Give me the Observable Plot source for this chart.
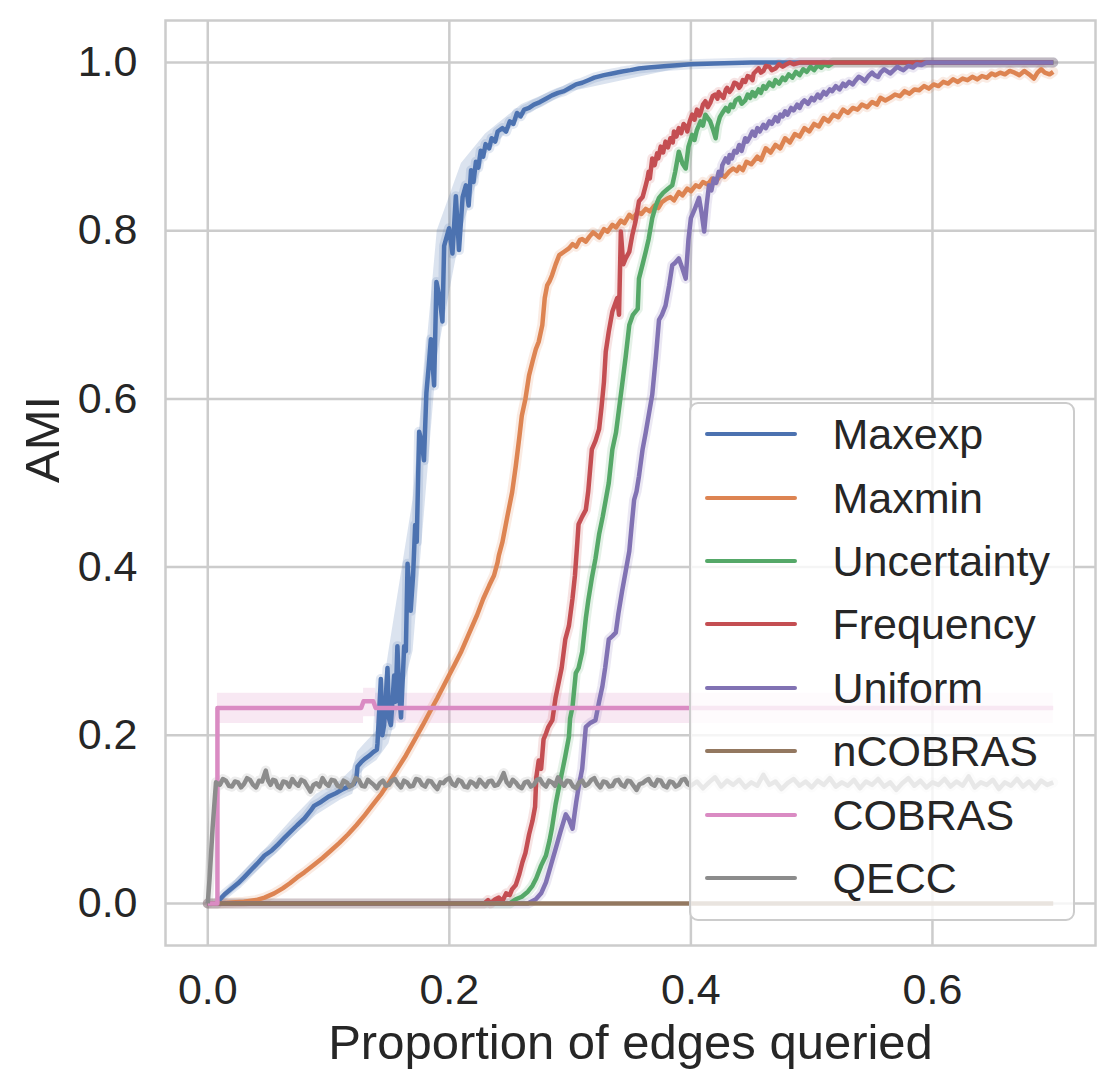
<!DOCTYPE html>
<html><head><meta charset="utf-8">
<script src="https://cdn.jsdelivr.net/npm/d3@7"></script>
<script src="https://cdn.jsdelivr.net/npm/@observablehq/plot@0.6"></script>
<style>
body{margin:0;background:#fff;}
#wrap{position:relative;width:1115px;height:1089px;font-family:"Liberation Sans",Arial,sans-serif;color:#262626;}
#legend{position:absolute;left:689px;top:402px;width:386px;height:519px;box-sizing:border-box;background:rgba(255,255,255,0.8);border:2.5px solid #cccccc;border-radius:9px;}
.row{position:absolute;left:0;height:60px;width:100%;}
.sw{position:absolute;left:13.5px;top:28px;width:92px;height:4px;border-radius:2px;}
.lab{position:absolute;left:141.5px;top:0;height:60px;line-height:60px;font-size:43px;white-space:nowrap;}
</style></head>
<body>
<div id="wrap"><div id="chart"></div><div id="legend"></div></div>
<script>
const seriesNames = ["Maxexp","Maxmin","Uncertainty","Frequency","Uniform","nCOBRAS","COBRAS","QECC"];
const seriesColors = ["#4c72b0","#dd8452","#55a868","#c44e52","#8172b3","#937860","#da8bc3","#8c8c8c"];
const xTicks = [0,0.2,0.4,0.6];
const yTicks = [0,0.2,0.4,0.6,0.8,1.0];

const maxexp = [[0,0],[0.008,0.0],[0.0095,0.004],[0.014,0.011],[0.019,0.017],[0.025,0.024],[0.03,0.031],[0.036,0.04],[0.042,0.049],[0.047,0.057],[0.053,0.063],[0.058,0.07],[0.064,0.079],[0.069,0.086],[0.074,0.093],[0.08,0.101],[0.085,0.11],[0.088,0.116],[0.094,0.121],[0.1,0.127],[0.106,0.131],[0.112,0.136],[0.118,0.14],[0.121,0.142],[0.123,0.148],[0.124,0.163],[0.127,0.168],[0.13,0.172],[0.134,0.176],[0.137,0.18],[0.14,0.183],[0.1405,0.19],[0.1433,0.267],[0.1445,0.2],[0.146,0.212],[0.1488,0.28],[0.15,0.22],[0.1516,0.212],[0.1543,0.271],[0.1555,0.24],[0.157,0.306],[0.1585,0.25],[0.16,0.221],[0.1626,0.306],[0.164,0.3],[0.1654,0.404],[0.168,0.348],[0.17,0.39],[0.1717,0.45],[0.173,0.43],[0.175,0.561],[0.177,0.55],[0.179,0.527],[0.181,0.607],[0.183,0.64],[0.1847,0.671],[0.1874,0.616],[0.1893,0.739],[0.192,0.72],[0.1943,0.692],[0.1957,0.782],[0.1998,0.803],[0.2026,0.773],[0.2054,0.841],[0.208,0.777],[0.211,0.84],[0.2137,0.854],[0.216,0.83],[0.218,0.872],[0.22,0.858],[0.222,0.882],[0.224,0.875],[0.226,0.895],[0.228,0.888],[0.23,0.903],[0.233,0.898],[0.235,0.91],[0.238,0.906],[0.24,0.918],[0.244,0.922],[0.247,0.918],[0.25,0.93],[0.253,0.927],[0.256,0.94],[0.259,0.936],[0.262,0.944],[0.266,0.946],[0.27,0.95],[0.275,0.953],[0.28,0.957],[0.285,0.961],[0.29,0.964],[0.295,0.966],[0.3,0.97],[0.305,0.974],[0.31,0.976],[0.315,0.979],[0.32,0.982],[0.328,0.985],[0.335,0.987],[0.342,0.989],[0.35,0.991],[0.357,0.993],[0.365,0.994],[0.38,0.996],[0.4,0.998],[0.42,0.999],[0.45,1.0],[0.5,1.0],[0.6,1.0],[0.7,1.0]];

const maxexpBand = [[0.01,0.0,0.008],[0.03,0.024,0.038],[0.05,0.05,0.068],[0.07,0.078,0.1],[0.09,0.105,0.13],[0.11,0.123,0.146],[0.12,0.13,0.16],[0.124,0.15,0.18],[0.13,0.16,0.19],[0.14,0.17,0.205],[0.15,0.19,0.3],[0.17,0.3,0.48],[0.19,0.65,0.8],[0.21,0.8,0.88],[0.23,0.89,0.915],[0.26,0.935,0.95],[0.3,0.965,0.975],[0.4,0.996,1.0]];

const maxmin = [[0,0],[0.008,0],[0.02,0.001],[0.03,0.002],[0.04,0.004],[0.047,0.007],[0.055,0.012],[0.062,0.018],[0.068,0.024],[0.074,0.031],[0.08,0.037],[0.088,0.046],[0.095,0.054],[0.102,0.063],[0.109,0.072],[0.116,0.082],[0.123,0.093],[0.13,0.105],[0.137,0.118],[0.144,0.131],[0.15,0.144],[0.157,0.16],[0.164,0.176],[0.171,0.194],[0.178,0.212],[0.185,0.231],[0.19,0.244],[0.195,0.258],[0.2,0.272],[0.204,0.283],[0.21,0.3],[0.216,0.32],[0.223,0.343],[0.228,0.362],[0.233,0.378],[0.237,0.39],[0.24,0.406],[0.241,0.414],[0.244,0.43],[0.248,0.46],[0.252,0.489],[0.255,0.52],[0.258,0.555],[0.26,0.58],[0.263,0.6],[0.266,0.628],[0.269,0.645],[0.2716,0.659],[0.274,0.668],[0.277,0.688],[0.279,0.72],[0.281,0.735],[0.283,0.74],[0.285,0.747],[0.288,0.76],[0.291,0.771],[0.295,0.775],[0.299,0.779],[0.302,0.784],[0.305,0.781],[0.308,0.789],[0.31,0.79],[0.313,0.787],[0.316,0.793],[0.319,0.798],[0.321,0.796],[0.324,0.792],[0.328,0.802],[0.331,0.799],[0.335,0.807],[0.338,0.804],[0.342,0.812],[0.345,0.809],[0.349,0.819],[0.352,0.815],[0.356,0.822],[0.359,0.82],[0.3626,0.826],[0.366,0.823],[0.37,0.83],[0.373,0.827],[0.376,0.834],[0.38,0.838],[0.383,0.84],[0.386,0.836],[0.39,0.846],[0.393,0.842],[0.397,0.85],[0.4,0.847],[0.404,0.854],[0.407,0.852],[0.41,0.858],[0.414,0.855],[0.4176,0.862],[0.421,0.859],[0.425,0.867],[0.428,0.864],[0.4315,0.87],[0.435,0.874],[0.438,0.871],[0.44,0.876],[0.443,0.872],[0.446,0.882],[0.45,0.879],[0.455,0.888],[0.458,0.884],[0.462,0.898],[0.466,0.893],[0.47,0.902],[0.474,0.898],[0.478,0.91],[0.482,0.905],[0.486,0.915],[0.49,0.912],[0.494,0.922],[0.498,0.918],[0.502,0.927],[0.506,0.924],[0.51,0.934],[0.514,0.93],[0.518,0.938],[0.522,0.935],[0.526,0.944],[0.53,0.94],[0.534,0.946],[0.538,0.944],[0.5416,0.95],[0.546,0.947],[0.55,0.953],[0.554,0.95],[0.557,0.958],[0.561,0.955],[0.565,0.958],[0.569,0.962],[0.573,0.96],[0.577,0.966],[0.581,0.963],[0.585,0.968],[0.589,0.967],[0.593,0.972],[0.597,0.969],[0.601,0.974],[0.605,0.972],[0.609,0.977],[0.613,0.975],[0.617,0.98],[0.621,0.977],[0.625,0.981],[0.629,0.979],[0.633,0.983],[0.637,0.98],[0.641,0.984],[0.645,0.982],[0.649,0.987],[0.652,0.985],[0.656,0.988],[0.66,0.986],[0.664,0.99],[0.668,0.988],[0.672,0.985],[0.676,0.99],[0.68,0.986],[0.684,0.981],[0.687,0.988],[0.69,0.992],[0.693,0.988],[0.697,0.986],[0.7,0.989]];

const uncertainty = [[0,0],[0.25,0.0],[0.255,0.005],[0.26,0.008],[0.265,0.014],[0.2688,0.021],[0.272,0.03],[0.276,0.045],[0.28,0.057],[0.283,0.075],[0.285,0.09],[0.288,0.118],[0.291,0.14],[0.2936,0.158],[0.296,0.175],[0.299,0.198],[0.3,0.22],[0.302,0.234],[0.3047,0.274],[0.307,0.28],[0.31,0.299],[0.313,0.339],[0.315,0.36],[0.318,0.387],[0.321,0.41],[0.324,0.439],[0.327,0.46],[0.3295,0.48],[0.332,0.5],[0.335,0.54],[0.338,0.56],[0.3405,0.588],[0.343,0.616],[0.346,0.65],[0.349,0.688],[0.352,0.7],[0.356,0.707],[0.357,0.743],[0.36,0.76],[0.3626,0.775],[0.365,0.79],[0.368,0.815],[0.371,0.83],[0.3736,0.839],[0.377,0.845],[0.381,0.85],[0.3846,0.854],[0.387,0.87],[0.39,0.894],[0.393,0.88],[0.3957,0.874],[0.398,0.9],[0.401,0.914],[0.403,0.908],[0.405,0.92],[0.408,0.93],[0.41,0.925],[0.412,0.938],[0.414,0.934],[0.416,0.93],[0.418,0.922],[0.4205,0.91],[0.422,0.925],[0.424,0.935],[0.426,0.94],[0.4288,0.946],[0.431,0.942],[0.433,0.95],[0.435,0.947],[0.437,0.955],[0.44,0.958],[0.442,0.951],[0.445,0.955],[0.447,0.962],[0.449,0.958],[0.451,0.965],[0.453,0.96],[0.456,0.968],[0.458,0.964],[0.46,0.972],[0.462,0.969],[0.465,0.976],[0.468,0.972],[0.47,0.979],[0.473,0.975],[0.476,0.982],[0.478,0.979],[0.481,0.986],[0.484,0.982],[0.487,0.989],[0.49,0.985],[0.493,0.992],[0.496,0.989],[0.499,0.995],[0.502,0.991],[0.505,0.997],[0.508,0.994],[0.51,0.998],[0.514,0.996],[0.518,1.0],[0.522,1.0],[0.6,1.0],[0.7,1.0]];

const frequency = [[0,0],[0.229,0.0],[0.232,0.004],[0.234,0.0],[0.238,0.005],[0.241,0.007],[0.244,0.003],[0.247,0.012],[0.25,0.01],[0.252,0.017],[0.255,0.022],[0.258,0.035],[0.2605,0.049],[0.263,0.06],[0.266,0.082],[0.2688,0.098],[0.271,0.115],[0.272,0.15],[0.274,0.17],[0.276,0.16],[0.278,0.195],[0.28,0.202],[0.282,0.21],[0.2853,0.218],[0.288,0.245],[0.291,0.266],[0.293,0.28],[0.296,0.314],[0.299,0.33],[0.302,0.363],[0.304,0.39],[0.306,0.43],[0.307,0.451],[0.31,0.46],[0.313,0.468],[0.315,0.49],[0.318,0.54],[0.321,0.55],[0.324,0.564],[0.326,0.59],[0.328,0.62],[0.3295,0.656],[0.332,0.68],[0.335,0.704],[0.337,0.712],[0.339,0.72],[0.3405,0.7],[0.342,0.799],[0.344,0.76],[0.346,0.767],[0.349,0.775],[0.3515,0.795],[0.354,0.81],[0.357,0.835],[0.36,0.84],[0.3626,0.854],[0.364,0.862],[0.365,0.87],[0.366,0.862],[0.368,0.886],[0.37,0.878],[0.372,0.892],[0.373,0.886],[0.375,0.9],[0.377,0.893],[0.379,0.906],[0.381,0.899],[0.383,0.91],[0.385,0.905],[0.386,0.918],[0.388,0.912],[0.39,0.922],[0.392,0.916],[0.394,0.927],[0.396,0.924],[0.397,0.918],[0.399,0.93],[0.401,0.938],[0.403,0.932],[0.405,0.944],[0.407,0.937],[0.408,0.94],[0.41,0.95],[0.412,0.954],[0.414,0.947],[0.416,0.952],[0.418,0.96],[0.42,0.962],[0.422,0.957],[0.423,0.965],[0.425,0.961],[0.427,0.958],[0.429,0.968],[0.43,0.97],[0.432,0.965],[0.434,0.969],[0.436,0.976],[0.438,0.975],[0.44,0.97],[0.441,0.972],[0.443,0.979],[0.445,0.977],[0.447,0.984],[0.449,0.983],[0.451,0.979],[0.452,0.987],[0.454,0.99],[0.456,0.993],[0.458,0.988],[0.46,0.99],[0.462,0.996],[0.465,0.995],[0.467,0.991],[0.47,0.993],[0.473,0.998],[0.476,0.995],[0.478,0.997],[0.482,1.0],[0.485,0.998],[0.49,1.0],[0.55,1.0],[0.7,1.0]];

const uniform = [[0,0],[0.265,0.0],[0.2716,0.005],[0.276,0.012],[0.28,0.025],[0.284,0.045],[0.288,0.065],[0.292,0.085],[0.2964,0.106],[0.299,0.1],[0.302,0.089],[0.305,0.12],[0.307,0.138],[0.31,0.16],[0.313,0.21],[0.317,0.215],[0.321,0.218],[0.324,0.24],[0.3267,0.258],[0.329,0.28],[0.332,0.314],[0.335,0.318],[0.3378,0.322],[0.34,0.345],[0.343,0.371],[0.346,0.395],[0.349,0.419],[0.351,0.45],[0.353,0.48],[0.355,0.49],[0.357,0.508],[0.36,0.54],[0.3626,0.56],[0.365,0.58],[0.368,0.605],[0.371,0.65],[0.3736,0.694],[0.376,0.7],[0.379,0.711],[0.382,0.735],[0.3846,0.759],[0.387,0.762],[0.39,0.767],[0.393,0.755],[0.3957,0.743],[0.398,0.79],[0.4,0.815],[0.403,0.825],[0.4067,0.839],[0.409,0.82],[0.411,0.799],[0.413,0.83],[0.415,0.854],[0.417,0.848],[0.419,0.862],[0.421,0.857],[0.423,0.87],[0.425,0.866],[0.426,0.878],[0.4288,0.886],[0.431,0.881],[0.432,0.89],[0.434,0.886],[0.436,0.895],[0.438,0.893],[0.44,0.902],[0.442,0.895],[0.443,0.9],[0.445,0.91],[0.4466,0.906],[0.449,0.912],[0.451,0.918],[0.453,0.913],[0.455,0.922],[0.457,0.918],[0.46,0.926],[0.462,0.922],[0.465,0.93],[0.467,0.927],[0.47,0.935],[0.472,0.93],[0.474,0.938],[0.476,0.936],[0.478,0.942],[0.48,0.938],[0.483,0.946],[0.485,0.943],[0.488,0.95],[0.49,0.946],[0.492,0.952],[0.494,0.955],[0.497,0.951],[0.5,0.958],[0.502,0.955],[0.505,0.962],[0.507,0.958],[0.51,0.965],[0.512,0.962],[0.515,0.968],[0.517,0.966],[0.52,0.972],[0.523,0.968],[0.526,0.975],[0.528,0.972],[0.531,0.977],[0.534,0.974],[0.536,0.978],[0.539,0.983],[0.5416,0.981],[0.544,0.978],[0.547,0.984],[0.55,0.988],[0.552,0.985],[0.555,0.983],[0.557,0.988],[0.56,0.992],[0.562,0.99],[0.565,0.987],[0.568,0.991],[0.571,0.995],[0.573,0.993],[0.576,0.991],[0.58,0.996],[0.584,0.994],[0.587,0.998],[0.591,0.997],[0.595,1.0],[0.65,1.0],[0.7,1.0]];

const ncobras = [[0,0],[0.7,0]];

const cobras = [[0,0],[0.008,0],[0.008,0.2325],[0.127,0.2325],[0.129,0.2405],[0.137,0.2405],[0.139,0.2325],[0.7,0.2325]];
const cobrasBand = [[0.008,0.214,0.25],[0.127,0.214,0.25],[0.129,0.222,0.256],[0.137,0.222,0.256],[0.139,0.214,0.25],[0.7,0.214,0.25]];

const qecc = [[0,0],[0.0015,0.03],[0.004,0.09],[0.0068,0.144],[0.01,0.141],[0.0125,0.148],[0.015,0.146],[0.0175,0.14],[0.02,0.139],[0.0225,0.145],[0.025,0.144],[0.0275,0.138],[0.03,0.142],[0.0325,0.149],[0.035,0.147],[0.0375,0.141],[0.04,0.138],[0.0425,0.146],[0.045,0.145],[0.048,0.158],[0.05,0.146],[0.052,0.141],[0.054,0.147],[0.056,0.146],[0.058,0.139],[0.06,0.137],[0.0625,0.145],[0.065,0.144],[0.0675,0.139],[0.07,0.148],[0.0725,0.143],[0.075,0.14],[0.0775,0.147],[0.08,0.145],[0.0825,0.139],[0.085,0.133],[0.0875,0.141],[0.09,0.143],[0.0925,0.139],[0.095,0.149],[0.0975,0.143],[0.1,0.14],[0.1025,0.147],[0.105,0.146],[0.1075,0.14],[0.11,0.138],[0.1125,0.146],[0.115,0.144],[0.1175,0.139],[0.12,0.141],[0.1225,0.149],[0.125,0.147],[0.1275,0.14],[0.13,0.139],[0.1325,0.147],[0.135,0.144],[0.1375,0.141],[0.14,0.137],[0.1425,0.143],[0.145,0.146],[0.1475,0.14],[0.15,0.141],[0.1525,0.146],[0.155,0.148],[0.1575,0.142],[0.16,0.138],[0.1625,0.146],[0.165,0.144],[0.1675,0.139],[0.17,0.14],[0.1725,0.148],[0.175,0.147],[0.1775,0.141],[0.18,0.139],[0.1825,0.146],[0.185,0.145],[0.1875,0.14],[0.19,0.136],[0.1925,0.144],[0.195,0.143],[0.1975,0.147],[0.2,0.149],[0.2025,0.142],[0.205,0.14],[0.2075,0.147],[0.21,0.145],[0.2125,0.139],[0.215,0.138],[0.2175,0.145],[0.22,0.143],[0.2225,0.139],[0.225,0.147],[0.2275,0.143],[0.23,0.139],[0.2325,0.145],[0.235,0.146],[0.2375,0.14],[0.24,0.141],[0.2425,0.147],[0.245,0.155],[0.2475,0.144],[0.25,0.14],[0.2525,0.147],[0.255,0.144],[0.2575,0.139],[0.26,0.137],[0.2625,0.144],[0.265,0.145],[0.2675,0.139],[0.27,0.141],[0.2725,0.147],[0.275,0.148],[0.2775,0.142],[0.28,0.139],[0.2825,0.146],[0.285,0.144],[0.2875,0.14],[0.29,0.15],[0.2925,0.144],[0.295,0.14],[0.2975,0.146],[0.3,0.145],[0.3025,0.139],[0.305,0.137],[0.3075,0.144],[0.31,0.146],[0.3125,0.14],[0.315,0.142],[0.3175,0.147],[0.32,0.149],[0.3225,0.142],[0.325,0.138],[0.3275,0.145],[0.33,0.144],[0.3325,0.139],[0.335,0.14],[0.3375,0.146],[0.34,0.147],[0.3425,0.141],[0.345,0.139],[0.3475,0.146],[0.35,0.145],[0.3525,0.14],[0.355,0.135],[0.3575,0.142],[0.36,0.143],[0.3625,0.146],[0.365,0.148],[0.3675,0.142],[0.37,0.14],[0.3725,0.147],[0.375,0.146],[0.3775,0.14],[0.38,0.138],[0.3825,0.145],[0.385,0.144],[0.3875,0.139],[0.39,0.141],[0.3925,0.147],[0.395,0.148],[0.3975,0.142],[0.4,0.14],[0.405,0.145],[0.41,0.137],[0.415,0.144],[0.42,0.15],[0.425,0.139],[0.43,0.146],[0.435,0.141],[0.44,0.147],[0.445,0.138],[0.45,0.144],[0.455,0.14],[0.46,0.153],[0.465,0.141],[0.47,0.145],[0.475,0.136],[0.48,0.143],[0.485,0.148],[0.49,0.14],[0.495,0.145],[0.5,0.138],[0.505,0.146],[0.51,0.141],[0.515,0.149],[0.52,0.139],[0.525,0.144],[0.53,0.14],[0.535,0.147],[0.54,0.137],[0.545,0.145],[0.55,0.141],[0.555,0.148],[0.56,0.139],[0.565,0.144],[0.57,0.135],[0.575,0.143],[0.58,0.149],[0.585,0.14],[0.59,0.146],[0.595,0.138],[0.6,0.144],[0.605,0.141],[0.61,0.148],[0.615,0.139],[0.62,0.145],[0.625,0.14],[0.63,0.151],[0.635,0.138],[0.64,0.144],[0.645,0.141],[0.65,0.147],[0.655,0.136],[0.66,0.144],[0.665,0.14],[0.67,0.148],[0.675,0.139],[0.68,0.145],[0.685,0.137],[0.69,0.146],[0.695,0.141],[0.7,0.144]];

const seriesData = [maxexp, maxmin, uncertainty, frequency, uniform, ncobras, cobras, qecc];
const rows = seriesData.flatMap((arr, i) => arr.map(([x, y]) => ({series: seriesNames[i], x, y})));

const fmt = d3.format(".1f");
const FONT = '"Liberation Sans", Arial, sans-serif';
const TXT = "#262626";

const chart = Plot.plot({
  width: 1115, height: 1089,
  marginLeft: 165, marginRight: 20, marginTop: 20, marginBottom: 144,
  style: {fontFamily: FONT, color: TXT, background: "white", overflow: "visible"},
  x: {domain: [-0.035, 0.735]},
  y: {domain: [-0.05, 1.05]},
  color: {domain: seriesNames, range: seriesColors},
  marks: [
    Plot.gridX(xTicks, {stroke: "#cccccc", strokeOpacity: 1, strokeWidth: 2.5}),
    Plot.gridY(yTicks, {stroke: "#cccccc", strokeOpacity: 1, strokeWidth: 2.5}),
    Plot.axisX(xTicks, {tickSize: 0, tickPadding: 28, fontSize: 43, tickFormat: fmt, label: null, fill: TXT}),
    Plot.axisY(yTicks, {tickSize: 0, tickPadding: 28, fontSize: 43, tickFormat: fmt, label: null, fill: TXT}),
    Plot.areaY(maxexpBand, {x: d => d[0], y1: d => d[1], y2: d => d[2], fill: seriesColors[0], fillOpacity: 0.2}),
    Plot.areaY(cobrasBand, {x: d => d[0], y1: d => d[1], y2: d => d[2], fill: seriesColors[6], fillOpacity: 0.2, curve: "step-after"}),
    Plot.line(rows.filter(d => d.series !== "nCOBRAS" && d.series !== "COBRAS"), {x: "x", y: "y", z: "series", stroke: "series", strokeWidth: 10, strokeOpacity: 0.16, strokeLinejoin: "round"}),
    Plot.line(rows, {x: "x", y: "y", z: "series", stroke: "series", strokeWidth: 4.5, strokeLinejoin: "round", strokeLinecap: "butt"}),
    Plot.frame({stroke: "#cccccc", strokeWidth: 2.5}),
    Plot.text(["Proportion of edges queried"], {text: d => d, frameAnchor: "bottom", lineAnchor: "bottom", dy: 113, fontSize: 49, fill: TXT}),
    Plot.text(["AMI"], {text: d => d, frameAnchor: "left", lineAnchor: "bottom", rotate: -90, dx: -107, fontSize: 49, fill: TXT})
  ]
});
document.getElementById("chart").appendChild(chart);

const legend = document.getElementById("legend");
seriesNames.forEach((name, i) => {
  const row = document.createElement("div");
  row.className = "row";
  row.style.top = (30.1 + 63.4 * i - 30) + "px";
  const sw = document.createElement("span");
  sw.className = "sw";
  sw.style.background = seriesColors[i];
  const lab = document.createElement("span");
  lab.className = "lab";
  lab.textContent = name;
  row.appendChild(sw);
  row.appendChild(lab);
  legend.appendChild(row);
});
</script>
</body></html>
